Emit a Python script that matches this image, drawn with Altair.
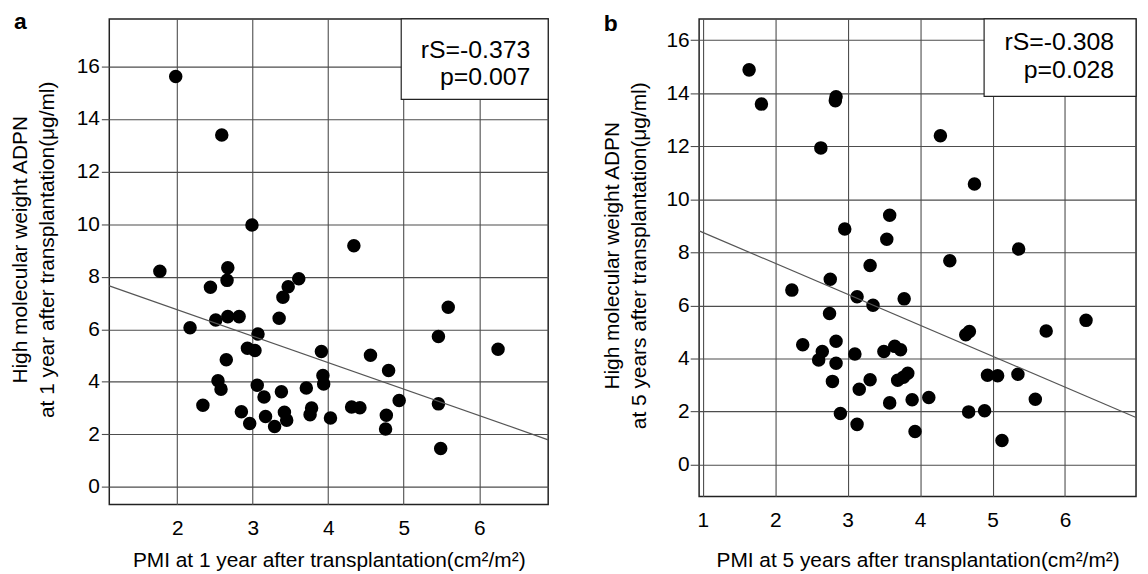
import altair as alt
import pandas as pd

FONT = "Liberation Sans"

# ---- Panel a: PMI at 1 year vs HMW ADPN at 1 year ----
PMI_1Y = [1.98, 2.59, 2.99, 4.34, 1.77, 2.67, 2.66, 2.44, 3.47, 3.40, 3.61,
          5.59, 2.17, 2.51, 2.67, 2.82, 3.35, 3.07, 5.46, 6.25, 2.93, 3.03,
          3.91, 4.56, 2.65, 4.80, 2.54, 2.58, 3.93, 3.94, 3.06, 3.15, 3.38,
          3.71, 2.34, 4.94, 5.46, 4.31, 4.42, 2.85, 3.78, 3.76, 4.77, 3.17,
          3.42, 3.45, 4.03, 2.96, 3.29, 4.76, 5.49]
ADPN_1Y = [15.62, 13.39, 9.97, 9.18, 8.21, 8.34, 7.86, 7.60, 7.62, 7.22, 7.92,
           6.84, 6.06, 6.35, 6.48, 6.48, 6.42, 5.82, 5.72, 5.24, 5.28, 5.19,
           5.15, 5.01, 4.84, 4.43, 4.04, 3.72, 4.24, 3.92, 3.87, 3.42, 3.62,
           3.76, 3.11, 3.29, 3.16, 3.04, 3.01, 2.86, 3.00, 2.75, 2.73, 2.68,
           2.84, 2.54, 2.62, 2.41, 2.30, 2.20, 1.46]

# ---- Panel b: PMI at 5 years vs HMW ADPN at 5 years ----
PMI_5Y = [1.64, 1.81, 2.84, 2.83, 2.63, 4.28, 4.75, 3.58, 2.96, 3.54, 5.36,
          4.41, 3.31, 2.76, 2.23, 3.13, 3.35, 3.78, 2.75, 4.63, 4.68, 5.74,
          6.29, 2.38, 2.65, 2.60, 2.84, 2.84, 3.10, 3.50, 3.65, 3.73, 2.79,
          3.31, 3.16, 3.69, 3.77, 3.83, 4.93, 5.07, 5.35, 3.58, 3.89, 4.12,
          5.59, 2.90, 4.67, 4.89, 3.13, 3.93, 5.13]
ADPN_5Y = [14.88, 13.59, 13.87, 13.72, 11.94, 12.40, 10.58, 9.40, 8.88, 8.50,
           8.13, 7.69, 7.51, 6.99, 6.58, 6.33, 6.01, 6.25, 5.70, 4.90, 5.02,
           5.04, 5.44, 4.52, 4.27, 3.95, 4.65, 3.82, 4.17, 4.27, 4.46, 4.33,
           3.14, 3.20, 2.84, 3.18, 3.30, 3.45, 3.37, 3.35, 3.41, 2.33, 2.45,
           2.53, 2.47, 1.93, 1.99, 2.03, 1.52, 1.25, 0.91]

# fitted regression lines as drawn in the figure
FIT_A = {"intercept": 8.76, "slope": -1.008}
FIT_B = {"intercept": 9.92, "slope": -1.166}

X_DOMAIN_A = [1.10, 6.914]
Y_DOMAIN_A = [-0.67, 17.81]
X_DOMAIN_B = [0.95, 6.98]
Y_DOMAIN_B = [-1.20, 16.80]

X_TICKS_A = [2, 3, 4, 5, 6]
X_TICKS_B = [1, 2, 3, 4, 5, 6]
Y_TICKS = [0, 2, 4, 6, 8, 10, 12, 14, 16]

STATS_A = ["rS=-0.373", "p=0.007"]
STATS_B = ["rS=-0.308", "p=0.028"]

X_TITLE_A = "PMI at 1 year after transplantation(cm²/m²)"
X_TITLE_B = "PMI at 5 years after transplantation(cm²/m²)"
Y_TITLE_A = ["High molecular weight ADPN", "at 1 year after transplantation(μg/ml)"]
Y_TITLE_B = ["High molecular weight ADPN", "at 5  years after transplantation(μg/ml)"]


def panel(xs, ys, fit, xdom, ydom, xticks, xtitle, ytitle, letter, stats,
          w, h, box_x, box_h, text_x, text_y1, text_y2, letter_y,
          ytick, ylabpad, ytitle_x, ytitle_y, xlabpad, xtitle_y,
          left_ext, top_ext):
    df = pd.DataFrame({"x": xs, "y": ys})
    one = pd.DataFrame({"k": [0]})
    xscale = alt.Scale(domain=xdom, nice=False, zero=False)
    yscale = alt.Scale(domain=ydom, nice=False, zero=False)
    xaxis = alt.Axis(values=xticks, title=xtitle, grid=True, tickSize=0,
                     labelPadding=xlabpad, titleY=xtitle_y,
                     domain=False, format="d")
    yaxis = alt.Axis(values=Y_TICKS, title=ytitle, grid=True, tickSize=ytick,
                     labelPadding=ylabpad, titleX=ytitle_x, titleY=ytitle_y,
                     domain=False, format="d", titleLineHeight=27)

    pts = alt.Chart(df).mark_circle(size=185, color="black", opacity=1).encode(
        x=alt.X("x:Q", scale=xscale, axis=xaxis),
        y=alt.Y("y:Q", scale=yscale, axis=yaxis),
    )
    line_df = pd.DataFrame({"x": xdom})
    line = alt.Chart(line_df).transform_calculate(
        y=f"{fit['intercept']} + ({fit['slope']}) * datum.x"
    ).mark_line(color="#555555", strokeWidth=1.2).encode(
        x=alt.X("x:Q", scale=xscale),
        y=alt.Y("y:Q", scale=yscale),
    )
    box = alt.Chart(one).mark_rect(fill="white", stroke="#222222", strokeWidth=1.2).encode(
        x=alt.value(box_x), x2=alt.value(w), y=alt.value(0), y2=alt.value(box_h)
    )
    t1 = alt.Chart(one).mark_text(align="right", baseline="alphabetic", font=FONT,
                                  fontSize=25, color="black").encode(
        x=alt.value(text_x), y=alt.value(text_y1), text=alt.value(stats[0])
    )
    t2 = alt.Chart(one).mark_text(align="right", baseline="alphabetic", font=FONT,
                                  fontSize=25, color="black").encode(
        x=alt.value(text_x), y=alt.value(text_y2), text=alt.value(stats[1])
    )
    lt = alt.Chart(one).mark_text(align="left", baseline="alphabetic", font=FONT,
                                  fontSize=23, fontWeight="bold", color="black").encode(
        x=alt.value(-96), y=alt.value(letter_y), text=alt.value(letter)
    )
    # invisible anchors that pin the panel's outer bounds
    anchor = alt.Chart(one).mark_rule(strokeOpacity=0).encode(
        x=alt.value(-left_ext), y=alt.value(-top_ext), y2=alt.value(0)
    )
    return alt.layer(pts, line, box, t1, t2, lt, anchor).properties(width=w, height=h)


pa = panel(PMI_1Y, ADPN_1Y, FIT_A, X_DOMAIN_A, Y_DOMAIN_A, X_TICKS_A,
           X_TITLE_A, Y_TITLE_A, "a", STATS_A,
           w=442, h=489, box_x=294, box_h=81, text_x=424, text_y1=39, text_y2=67,
           letter_y=10, ytick=8, ylabpad=2, ytitle_x=-79, ytitle_y=232,
           xlabpad=13, xtitle_y=45, left_ext=101, top_ext=8)
pb = panel(PMI_5Y, ADPN_5Y, FIT_B, X_DOMAIN_B, Y_DOMAIN_B, X_TICKS_B,
           X_TITLE_B, Y_TITLE_B, "b", STATS_B,
           w=440, h=481, box_x=287, box_h=78, text_x=418, text_y1=31, text_y2=59,
           letter_y=12, ytick=9, ylabpad=1, ytitle_x=-76.8, ytitle_y=238,
           xlabpad=13, xtitle_y=53.5, left_ext=100, top_ext=8)

chart = alt.hconcat(pa, pb, spacing=47).properties(
    padding={"left": 0, "top": 0, "right": 0, "bottom": 0}
).configure_axis(
    labelFont=FONT, titleFont=FONT, labelFontSize=21, titleFontSize=21,
    labelColor="black", titleColor="black", titleFontWeight="normal",
    gridColor="#4d4d4d", gridWidth=1.1, tickColor="#4d4d4d", tickWidth=1.1,
).configure_view(stroke="#222222", strokeWidth=1.5)

chart.save("out.html", embed_options={"renderer": "svg", "actions": False})
